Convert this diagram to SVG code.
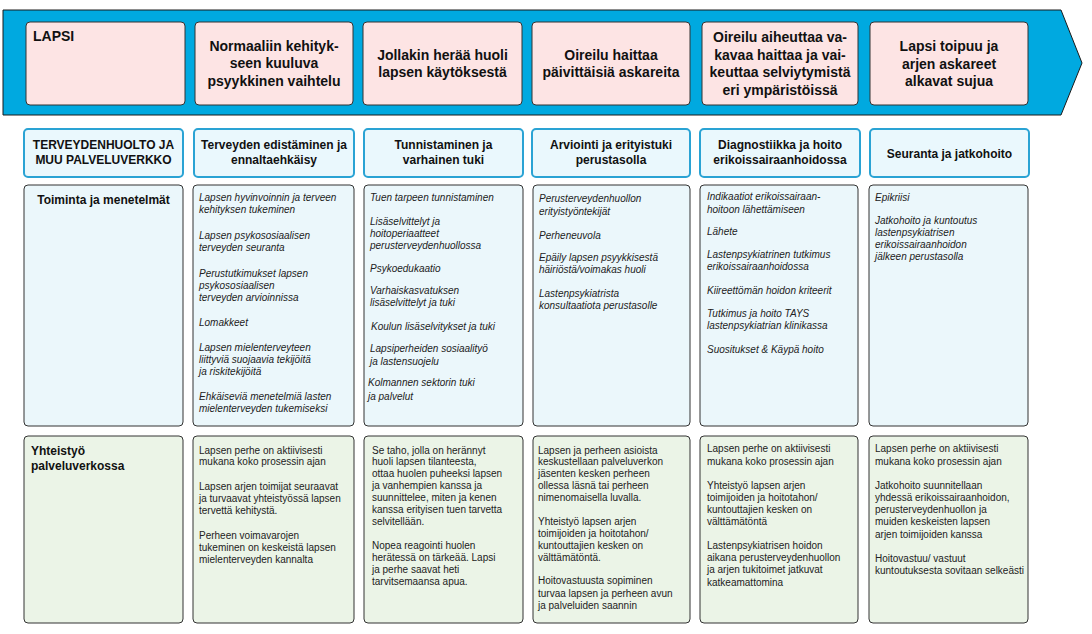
<svg xmlns="http://www.w3.org/2000/svg" width="1092" height="634" viewBox="0 0 1092 634">
<style>
.bg{fill:#ffffff}
.banner{fill:#00a9e0;stroke:#1a1a1a;stroke-width:1}
.pink{fill:#fde4e4;stroke:#333333;stroke-width:1}
.hdr{fill:#eaf8fd;stroke:#2aa3d4;stroke-width:2}
.cell{fill:#ebf7fb;stroke:#333333;stroke-width:1}
.green{fill:#ebf4e7;stroke:#333333;stroke-width:1}
.t1{font-family:"Liberation Sans",Arial,sans-serif;font-size:14px;font-weight:bold;fill:#111}
.t2{font-family:"Liberation Sans",Arial,sans-serif;font-size:12px;font-weight:bold;fill:#111}
.it{font-family:"Liberation Sans",Arial,sans-serif;font-size:10px;font-style:italic;fill:#222}
.rg{font-family:"Liberation Sans",Arial,sans-serif;font-size:10px;fill:#222}
.c{text-anchor:middle}
</style>
<rect class="bg" x="0" y="0" width="1092" height="634"/>
<g id="banner">
<polygon class="banner" points="3,10 1061,10 1082,63 1061,115 3,115"/>
</g>
<g id="lapsi">
<rect class="pink" x="26" y="22" width="159" height="83" rx="4"/>
<text class="t1" x="33" y="41">LAPSI</text>
</g>
<g id="stage1">
<rect class="pink" x="195" y="22" width="158" height="83" rx="4"/>
<text class="t1 c"><tspan x="274" y="50.5">Normaaliin kehityk-</tspan><tspan x="274" y="68">seen kuuluva</tspan><tspan x="274" y="85.5">psyykkinen vaihtelu</tspan></text>
</g>
<g id="stage2">
<rect class="pink" x="363" y="22" width="159" height="83" rx="4"/>
<text class="t1 c"><tspan x="442.5" y="59.5">Jollakin herää huoli</tspan><tspan x="442.5" y="77">lapsen käytöksestä</tspan></text>
</g>
<g id="stage3">
<rect class="pink" x="532" y="22" width="158" height="83" rx="4"/>
<text class="t1 c"><tspan x="611" y="59.5">Oireilu haittaa</tspan><tspan x="611" y="77">päivittäisiä askareita</tspan></text>
</g>
<g id="stage4">
<rect class="pink" x="702" y="22" width="156" height="83" rx="4"/>
<text class="t1 c"><tspan x="780" y="42">Oireilu aiheuttaa va-</tspan><tspan x="780" y="59.5">kavaa haittaa ja vai-</tspan><tspan x="780" y="77">keuttaa selviytymistä</tspan><tspan x="780" y="94.5">eri ympäristöissä</tspan></text>
</g>
<g id="stage5">
<rect class="pink" x="870" y="22" width="158" height="83" rx="4"/>
<text class="t1 c"><tspan x="949" y="51">Lapsi toipuu ja</tspan><tspan x="949" y="68.5">arjen askareet</tspan><tspan x="949" y="86">alkavat sujua</tspan></text>
</g>
<g id="hdr0">
<rect class="hdr" x="24" y="129" width="159" height="48" rx="4"/>
<text class="t2 c"><tspan x="103.5" y="148.5">TERVEYDENHUOLTO JA</tspan><tspan x="103.5" y="163.5">MUU PALVELUVERKKO</tspan></text>
</g>
<g id="hdr1">
<rect class="hdr" x="194" y="129" width="160" height="48" rx="4"/>
<text class="t2 c"><tspan x="274" y="148.5">Terveyden edistäminen ja</tspan><tspan x="274" y="163.5">ennaltaehkäisy</tspan></text>
</g>
<g id="hdr2">
<rect class="hdr" x="364" y="129" width="159" height="48" rx="4"/>
<text class="t2 c"><tspan x="443.5" y="148.5">Tunnistaminen ja</tspan><tspan x="443.5" y="163.5">varhainen tuki</tspan></text>
</g>
<g id="hdr3">
<rect class="hdr" x="532" y="129" width="158" height="48" rx="4"/>
<text class="t2 c"><tspan x="611" y="148.5">Arviointi ja erityistuki</tspan><tspan x="611" y="163.5">perustasolla</tspan></text>
</g>
<g id="hdr4">
<rect class="hdr" x="700" y="129" width="160" height="48" rx="4"/>
<text class="t2 c"><tspan x="780" y="148.5">Diagnostiikka ja hoito</tspan><tspan x="780" y="163.5">erikoissairaanhoidossa</tspan></text>
</g>
<g id="hdr5">
<rect class="hdr" x="870" y="129" width="159" height="48" rx="4"/>
<text class="t2 c" x="949.5" y="158">Seuranta ja jatkohoito</text>
</g>
<g id="toiminta">
<rect class="cell" x="24" y="185" width="159" height="241" rx="4"/>
<text class="t2 c" x="103.5" y="203.5">Toiminta ja menetelmät</text>
</g>
<g id="toiminta1">
<rect class="cell" x="193" y="185" width="161" height="241" rx="4"/>
<text class="it"><tspan x="199" y="200.5">Lapsen hyvinvoinnin ja terveen</tspan><tspan x="199" y="213">kehityksen tukeminen</tspan><tspan x="199" y="238.5">Lapsen psykososiaalisen</tspan><tspan x="199" y="251">terveyden seuranta</tspan><tspan x="199" y="276.5">Perustutkimukset lapsen</tspan><tspan x="199" y="288.5">psykososiaalisen</tspan><tspan x="199" y="300.5">terveyden arvioinnissa</tspan><tspan x="199" y="326">Lomakkeet</tspan><tspan x="199" y="351">Lapsen mielenterveyteen</tspan><tspan x="199" y="363">liittyviä suojaavia tekijöitä</tspan><tspan x="199" y="375">ja riskitekijöitä</tspan><tspan x="199" y="400">Ehkäiseviä menetelmiä lasten</tspan><tspan x="199" y="412">mielenterveyden tukemiseksi</tspan></text>
</g>
<g id="toiminta2">
<rect class="cell" x="364" y="185" width="159" height="241" rx="4"/>
<text class="it"><tspan x="370" y="200.5">Tuen tarpeen tunnistaminen</tspan><tspan x="370" y="225">Lisäselvittelyt ja</tspan><tspan x="370" y="236.5">hoitoperiaatteet</tspan><tspan x="370" y="249">perusterveydenhuollossa</tspan><tspan x="370" y="271.5">Psykoedukaatio</tspan><tspan x="370" y="293.5">Varhaiskasvatuksen</tspan><tspan x="370" y="306">lisäselvittelyt ja tuki</tspan><tspan x="371" y="329.5">Koulun lisäselvitykset ja tuki</tspan><tspan x="370" y="351.5">Lapsiperheiden sosiaalityö</tspan><tspan x="370" y="364.5">ja lastensuojelu</tspan><tspan x="368" y="386">Kolmannen sektorin tuki</tspan><tspan x="368" y="400">ja palvelut</tspan></text>
</g>
<g id="toiminta3">
<rect class="cell" x="533" y="185" width="157" height="241" rx="4"/>
<text class="it"><tspan x="539" y="202">Perusterveydenhuollon</tspan><tspan x="539" y="215">erityistyöntekijät</tspan><tspan x="539" y="238.5">Perheneuvola</tspan><tspan x="539" y="260.5">Epäily lapsen psyykkisestä</tspan><tspan x="539" y="273">häiriöstä/voimakas huoli</tspan><tspan x="539" y="296.5">Lastenpsykiatrista</tspan><tspan x="539" y="309">konsultaatiota perustasolle</tspan></text>
</g>
<g id="toiminta4">
<rect class="cell" x="700" y="185" width="158" height="241" rx="4"/>
<text class="it"><tspan x="707" y="200">Indikaatiot erikoissairaan-</tspan><tspan x="707" y="212.5">hoitoon lähettämiseen</tspan><tspan x="707" y="235">Lähete</tspan><tspan x="707" y="258">Lastenpsykiatrinen tutkimus</tspan><tspan x="707" y="270">erikoissairaanhoidossa</tspan><tspan x="707" y="293.5">Kiireettömän hoidon kriteerit</tspan><tspan x="707" y="316.5">Tutkimus ja hoito TAYS</tspan><tspan x="707" y="329">lastenpsykiatrian klinikassa</tspan><tspan x="707" y="353">Suositukset &amp; Käypä hoito</tspan></text>
</g>
<g id="toiminta5">
<rect class="cell" x="869" y="185" width="159" height="241" rx="4"/>
<text class="it"><tspan x="875" y="200.5">Epikriisi</tspan><tspan x="875" y="223.5">Jatkohoito ja kuntoutus</tspan><tspan x="875" y="235.5">lastenpsykiatrisen</tspan><tspan x="875" y="247.5">erikoissairaanhoidon</tspan><tspan x="875" y="260">jälkeen perustasolla</tspan></text>
</g>
<g id="yhteistyo">
<rect class="green" x="24" y="436" width="159" height="187" rx="4"/>
<text class="t2"><tspan x="31" y="455">Yhteistyö</tspan><tspan x="31" y="469.5">palveluverkossa</tspan></text>
</g>
<g id="yhteistyo1">
<rect class="green" x="193" y="436" width="161" height="187" rx="4"/>
<text class="rg"><tspan x="199" y="453.5">Lapsen perhe on aktiivisesti</tspan><tspan x="199" y="465">mukana koko prosessin ajan</tspan><tspan x="199" y="489.5">Lapsen arjen toimijat seuraavat</tspan><tspan x="199" y="501.5">ja turvaavat yhteistyössä lapsen</tspan><tspan x="199" y="514">tervettä kehitystä.</tspan><tspan x="199" y="538.5">Perheen voimavarojen</tspan><tspan x="199" y="551">tukeminen on keskeistä lapsen</tspan><tspan x="199" y="563">mielenterveyden kannalta</tspan></text>
</g>
<g id="yhteistyo2">
<rect class="green" x="364" y="436" width="159" height="187" rx="4"/>
<text class="rg"><tspan x="372" y="453.5">Se taho, jolla on herännyt</tspan><tspan x="372" y="465">huoli lapsen tilanteesta,</tspan><tspan x="372" y="477">ottaa huolen puheeksi lapsen</tspan><tspan x="372" y="489">ja vanhempien kanssa ja</tspan><tspan x="372" y="501">suunnittelee, miten ja kenen</tspan><tspan x="372" y="512.5">kanssa erityisen tuen tarvetta</tspan><tspan x="372" y="525">selvitellään.</tspan><tspan x="372" y="548.5">Nopea reagointi huolen</tspan><tspan x="372" y="560.5">herätessä on tärkeää. Lapsi</tspan><tspan x="372" y="572.5">ja perhe saavat heti</tspan><tspan x="372" y="584.5">tarvitsemaansa apua.</tspan></text>
</g>
<g id="yhteistyo3">
<rect class="green" x="533" y="436" width="157" height="187" rx="4"/>
<text class="rg"><tspan x="538" y="453.5">Lapsen ja perheen asioista</tspan><tspan x="538" y="465">keskustellaan palveluverkon</tspan><tspan x="538" y="477">jäsenten kesken perheen</tspan><tspan x="538" y="489">ollessa läsnä tai perheen</tspan><tspan x="538" y="501">nimenomaisella luvalla.</tspan><tspan x="538" y="525">Yhteistyö lapsen arjen</tspan><tspan x="538" y="536.5">toimijoiden ja hoitotahon/</tspan><tspan x="538" y="548.5">kuntouttajien kesken on</tspan><tspan x="538" y="561">välttämätöntä.</tspan><tspan x="538" y="584">Hoitovastuusta sopiminen</tspan><tspan x="538" y="596.5">turvaa lapsen ja perheen avun</tspan><tspan x="538" y="608.5">ja palveluiden saannin</tspan></text>
</g>
<g id="yhteistyo4">
<rect class="green" x="700" y="436" width="158" height="187" rx="4"/>
<text class="rg"><tspan x="707" y="452">Lapsen perhe on aktiivisesti</tspan><tspan x="707" y="465">mukana koko prosessin ajan</tspan><tspan x="707" y="488.5">Yhteistyö lapsen arjen</tspan><tspan x="707" y="500.5">toimijoiden ja hoitotahon/</tspan><tspan x="707" y="512.5">kuntouttajien kesken on</tspan><tspan x="707" y="524.5">välttämätöntä</tspan><tspan x="707" y="548.5">Lastenpsykiatrisen hoidon</tspan><tspan x="707" y="560.5">aikana perusterveydenhuollon</tspan><tspan x="707" y="572.5">ja arjen tukitoimet jatkuvat</tspan><tspan x="707" y="585.5">katkeamattomina</tspan></text>
</g>
<g id="yhteistyo5">
<rect class="green" x="869" y="436" width="159" height="187" rx="4"/>
<text class="rg"><tspan x="875" y="452">Lapsen perhe on aktiivisesti</tspan><tspan x="875" y="465">mukana koko prosessin ajan</tspan><tspan x="875" y="488.5">Jatkohoito suunnitellaan</tspan><tspan x="875" y="500.5">yhdessä erikoissairaanhoidon,</tspan><tspan x="875" y="512.5">perusterveydenhuollon ja</tspan><tspan x="875" y="525">muiden keskeisten lapsen</tspan><tspan x="875" y="538">arjen toimijoiden kanssa</tspan><tspan x="875" y="561.5">Hoitovastuu/ vastuut</tspan><tspan x="875" y="574">kuntoutuksesta sovitaan selkeästi</tspan></text>
</g>
<g id="connectors"></g>
</svg>
